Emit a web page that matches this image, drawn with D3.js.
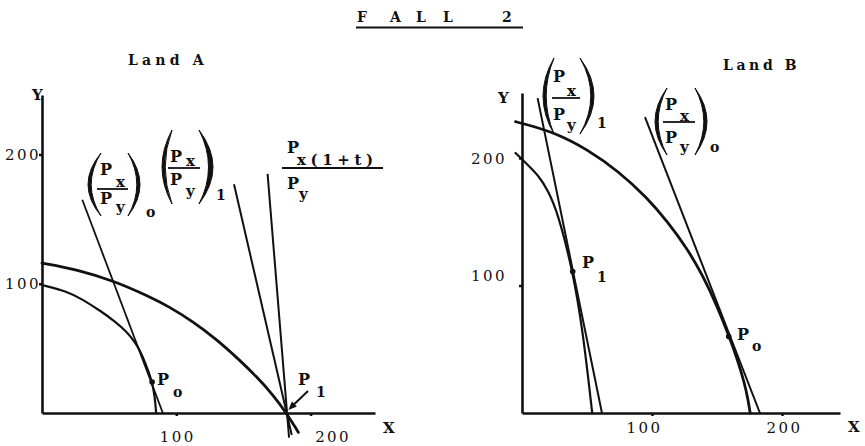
<!DOCTYPE html>
<html><head><meta charset="utf-8">
<script src="https://cdn.jsdelivr.net/npm/d3@7"></script>
<style>
html,body{margin:0;padding:0;background:#fff;}
svg{display:block;background:#fff;}
text{font-family:"DejaVu Serif","Liberation Serif",serif;fill:#111;white-space:pre;}
</style></head><body>
<svg id="chart" width="865" height="446"></svg>
<script>
// ---------- data ----------
const title = "F A L L   2";
const panelNames = ["Land A", "Land B"];
const xTicks = [100, 200];
const yTicks = [100, 200];

// Land A
const ppfA1 = [[0,116],[26,111],[54,102],[80,90],[95,82],[112,71],[130,57],[145,43],[160,28],[172,14],[182,0],[191,-15]];
const ppfA0 = [[0,99],[19,94],[30,88],[45,78],[54,71],[63,63],[70,54],[75,44],[79,33],[82,24],[84,13],[85,0]];
const priceA0 = [[30,165],[90,0]];
const priceA1 = [[143,177],[186,-17]];
const priceAt = [[168,185],[184,-19]];
const pointA0 = [82,24];
const pointA1 = [182,0];

// Land B
const ppfB1 = [[-5,228.5],[1,227],[25,220],[50,207],[75,189],[96,169],[112,150],[127,129],[139,108],[150,84],[159,61],[166,41],[171,24],[174,10],[175.5,0]];
const ppfB0 = [[-5,204],[1,198],[14,185],[20,174],[27,159],[39,112],[47,63],[54,0]];
const priceB1 = [[12,247],[61.5,0]];
const priceB0 = [[94.6,232],[183,0]];
const pointB1 = [39,111];
const pointB0 = [159,60];

// ---------- drawing ----------
const svg = d3.select("#chart");
const ink = "#111";

const xA = d3.scaleLinear([0,248],[42,375]);
const yA = d3.scaleLinear([0,246],[413,95]);
const xB = d3.scaleLinear([0,244.6],[522,840]);
const yB = d3.scaleLinear([0,251],[413,93]);

// title (characters placed one by one, typewriter-like)
const titleX = [357,370,390,404,416,430,443,456,470,485,502];
svg.append("text").attr("x",titleX.join(" ")).attr("y",22)
  .style("font-size","14px").style("font-weight","bold")
  .text(title);
svg.append("line").attr("x1",356).attr("x2",523).attr("y1",27.5).attr("y2",27.5)
  .attr("stroke",ink).attr("stroke-width",2);

svg.append("text").attr("x",128).attr("y",65)
  .style("font-size","14px").style("font-weight","bold").style("letter-spacing","4.2px")
  .text(panelNames[0]);
svg.append("text").attr("x",723).attr("y",70)
  .style("font-size","14px").style("font-weight","bold").style("letter-spacing","3.6px")
  .text(panelNames[1]);

function axes(x, y, opt){
  const gx = svg.append("g").attr("transform",`translate(0,${y(0)})`)
    .call(d3.axisBottom(x).tickValues(xTicks).tickSize(3).tickSizeOuter(0).tickFormat(d3.format("d")));
  const gy = svg.append("g").attr("transform",`translate(${x(0)},0)`)
    .call(d3.axisLeft(y).tickValues(yTicks).tickSize(3).tickSizeOuter(0).tickFormat(d3.format("d")));
  [gx, gy].forEach(g=>{
    g.select(".domain").attr("stroke",ink).attr("stroke-width",2.6);
    g.selectAll(".tick line").attr("stroke",ink).attr("stroke-width",2.5);
    g.selectAll("text").attr("fill",ink)
      .style("font-family",'"DejaVu Serif",serif').style("font-size","15px")
      .style("letter-spacing","2.4px");
  });
  gx.selectAll("text").attr("y",opt.xLabelY).attr("dy",0)
    .attr("dx",(d,i)=>opt.xLabelDx[i]);
  gy.selectAll("text").attr("text-anchor","start").attr("x",opt.yLabelX).attr("dy",0)
    .attr("y",(d,i)=>opt.yLabelY[i]);
}
axes(xA, yA, {xLabelY:29, xLabelDx:[1,22], yLabelX:-37, yLabelY:[4.5,5.5]});
axes(xB, yB, {xLabelY:20, xLabelDx:[-8,2], yLabelX:-51, yLabelY:[-5,5]});

function curve(x, y, data, w){
  svg.append("path").datum(data)
    .attr("d", d3.line().x(d=>x(d[0])).y(d=>y(d[1])).curve(d3.curveBasis))
    .attr("fill","none").attr("stroke",ink).attr("stroke-width",w).attr("stroke-linecap","round");
}
function seg(x, y, data, w){
  svg.append("path").datum(data)
    .attr("d", d3.line().x(d=>x(d[0])).y(d=>y(d[1])))
    .attr("fill","none").attr("stroke",ink).attr("stroke-width",w);
}
function dot(x, y, p){
  svg.append("circle").attr("cx",x(p[0])).attr("cy",y(p[1])).attr("r",2.8).attr("fill",ink);
}

curve(xA, yA, ppfA1, 2.8);
curve(xA, yA, ppfA0, 2.2);
seg(xA, yA, priceA0, 1.8);
seg(xA, yA, priceA1, 2);
seg(xA, yA, priceAt, 2);
dot(xA, yA, pointA0);

curve(xB, yB, ppfB1, 2.8);
curve(xB, yB, ppfB0, 2.2);
seg(xB, yB, priceB1, 2);
seg(xB, yB, priceB0, 2);
dot(xB, yB, pointB1);
dot(xB, yB, pointB0);

function txt(x, y, s, size, ls){
  svg.append("text").attr("x",x).attr("y",y)
    .style("font-size",(size||16)+"px").style("font-weight","bold")
    .style("letter-spacing",(ls||0)+"px").text(s);
}
// axis names
txt(32,100,"Y",15); txt(383,433,"X",15);
txt(498,103,"Y",15); txt(848,432,"X",15);

function paren(tipX, midX, top, bot, w){
  const mid=(top+bot)/2;
  const c1 = 2*midX - tipX;
  const dir = midX < tipX ? 1 : -1;
  const c2 = 2*(midX + dir*w) - tipX;
  svg.append("path")
    .attr("d",`M${tipX},${top} Q${c1},${mid} ${tipX},${bot} Q${c2},${mid} ${tipX},${top} Z`)
    .attr("fill",ink).attr("stroke",ink).attr("stroke-width",1);
}
function frac(o, sub){
  txt(o.px, o.pY, "P"); txt(o.sx, o.xY, "x", 15);
  svg.append("line").attr("x1",o.b0).attr("x2",o.b1).attr("y1",o.bY).attr("y2",o.bY)
    .attr("stroke",ink).attr("stroke-width",1.8);
  txt(o.px, o.qY, "P"); txt(o.sx, o.yY, "y", 15);
  paren(o.l[0], o.l[1], o.top, o.bot, o.lw||3.2);
  paren(o.r[0], o.r[1], o.top, o.bot, o.rw||3.2);
  txt(o.subX, o.subY, sub, 14);
}
// Land A labels
frac({px:100,pY:175,sx:116,xY:187,b0:97,b1:128,bY:189,qY:204,yY:212,
      l:[101,88],r:[128,140],top:153,bot:216,subX:146,subY:217}, "o");
frac({px:170,pY:162,sx:186,xY:166,b0:168,b1:200,bY:168,qY:185,yY:196,
      l:[172,162],r:[199,213],top:130,bot:204,rw:4.5,subX:216,subY:200}, "1");
txt(287,153,"P"); txt(297,165,"x(1+t)",15,4.6);
svg.append("line").attr("x1",282).attr("x2",383).attr("y1",168).attr("y2",168)
  .attr("stroke",ink).attr("stroke-width",1.8);
txt(287,189,"P"); txt(299,199,"y",15);

txt(157,385,"P"); txt(173,397,"o",14);
txt(298,385,"P"); txt(316,397,"1",14);
// arrow to P1 (Land A)
{
  const tx = xA(pointA1[0])+2, ty = yA(pointA1[1])-3;
  svg.append("line").attr("x1",308).attr("y1",391).attr("x2",tx+5).attr("y2",ty-5)
    .attr("stroke",ink).attr("stroke-width",2);
  svg.append("path")
    .attr("d",`M${tx},${ty} L${tx+8.5},${ty-3.5} L${tx+3.5},${ty-8.5} Z`).attr("fill",ink);
}

// Land B labels
frac({px:553,pY:82,sx:567,xY:96,b0:552,b1:580,bY:98,qY:120,yY:130,
      l:[554,543],r:[580,594],top:58,bot:134,subX:597,subY:128}, "1");
frac({px:665,pY:110,sx:680,xY:121,b0:663,b1:695,bY:122,qY:143,yY:152,
      l:[667,655],r:[695,707],top:88,bot:155,subX:710,subY:152}, "o");
txt(582,268,"P"); txt(597,282,"1",14);
txt(737,340,"P"); txt(752,351,"o",14);
</script>
</body></html>
